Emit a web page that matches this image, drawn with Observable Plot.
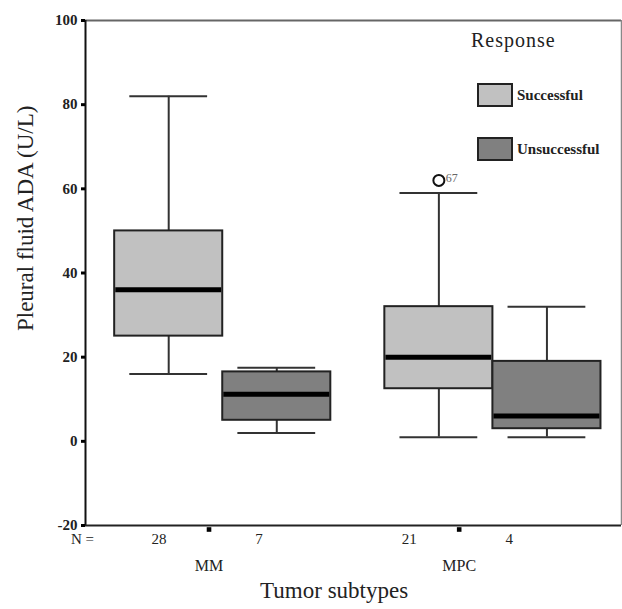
<!DOCTYPE html>
<html><head><meta charset="utf-8">
<script src="https://cdn.jsdelivr.net/npm/d3@7"></script>
<script src="https://cdn.jsdelivr.net/npm/@observablehq/plot@0.6"></script>
<style>
body{margin:0;background:#fff;}
#wrap{position:relative;width:622px;height:609px;overflow:hidden;}
</style></head><body>
<div id="wrap"><div id="chart"></div></div>
<script>
// ---- data ----
const groupNames = ["MM", "MPC"];
const responseNames = ["Successful", "Unsuccessful"];
const responseColors = ["#c1c1c1", "#808080"];
const boxGroup = ["MM", "MM", "MPC", "MPC"];
const boxResponse = ["Successful", "Unsuccessful", "Successful", "Unsuccessful"];
const nCount = [28, 7, 21, 4];
const whiskerLow = [16, 2, 1, 1];
const q1 = [25, 5, 12.5, 3];
const median = [36, 11.2, 20, 6];
const q3 = [50, 16.5, 32, 19];
const whiskerHigh = [82, 17.5, 59, 32];
const outlierGroup = ["MPC"];
const outlierResponse = ["Successful"];
const outlierValue = [62];
const outlierCase = ["67"];
const yTicks = [-20, 0, 20, 40, 60, 80, 100];
const yLabel = "Pleural fluid ADA (U/L)";
const xLabel = "Tumor subtypes";
const legendTitle = "Response";
const nPrefix = "N =";

// ---- layout ----
const groupStep = 2.5, boxW = 1, capW = 0.72;
const xDomain = [-0.77, 4.19];
const labelShrink = 0.926, labelShift = -0.09; // SPSS category labels sit on a slightly compressed axis
const pos = (g, r) => groupNames.indexOf(g) * groupStep + responseNames.indexOf(r);
const labelPos = p => p * labelShrink + labelShift;
const FONT = "Liberation Serif, serif";

const boxes = boxGroup.map((g, i) => ({
  group: g, response: boxResponse[i], pos: pos(g, boxResponse[i]), n: String(nCount[i]),
  lo: whiskerLow[i], q1: q1[i], med: median[i], q3: q3[i], hi: whiskerHigh[i]
}));
const outliers = outlierGroup.map((g, i) => ({pos: pos(g, outlierResponse[i]), value: outlierValue[i], label: outlierCase[i]}));
const groups = groupNames.map((g, i) => ({name: g, pos: labelPos(i * groupStep + 0.5)}));
const titleX = d3.mean(groups, d => d.pos);

const chart = Plot.plot({
  width: 622, height: 609,
  marginLeft: 85, marginRight: 1, marginTop: 20, marginBottom: 84,
  style: {fontFamily: FONT, background: "white", color: "#222", overflow: "visible"},
  x: {type: "linear", domain: xDomain, axis: null},
  y: {domain: [-20, 100], axis: null},
  color: {domain: responseNames, range: responseColors},
  marks: [
    // frame
    Plot.ruleY([100], {stroke: "#666", strokeWidth: 2}),
    Plot.ruleX([xDomain[1]], {stroke: "#888", strokeWidth: 1.5}),
    // whiskers
    Plot.ruleX(boxes, {x: "pos", y1: "q3", y2: "hi", stroke: "#333", strokeWidth: 2}),
    Plot.ruleX(boxes, {x: "pos", y1: "lo", y2: "q1", stroke: "#333", strokeWidth: 2}),
    Plot.ruleY(boxes, {y: "hi", x1: d => d.pos - capW / 2, x2: d => d.pos + capW / 2, stroke: "#333", strokeWidth: 2}),
    Plot.ruleY(boxes, {y: "lo", x1: d => d.pos - capW / 2, x2: d => d.pos + capW / 2, stroke: "#333", strokeWidth: 2}),
    // boxes
    Plot.rect(boxes, {x1: d => d.pos - boxW / 2, x2: d => d.pos + boxW / 2, y1: "q1", y2: "q3", fill: "response", stroke: "#222", strokeWidth: 2}),
    Plot.ruleY(boxes, {y: "med", x1: d => d.pos - boxW / 2 + 0.01, x2: d => d.pos + boxW / 2 - 0.01, stroke: "#000", strokeWidth: 5}),
    // outlier
    Plot.dot(outliers, {x: "pos", y: "value", r: 5.5, stroke: "#111", strokeWidth: 2, fill: "white"}),
    Plot.text(outliers, {x: "pos", y: "value", text: "label", dx: 13, dy: -2, fontSize: 12, fill: "#666"}),
    // axes lines
    Plot.ruleY([-20], {stroke: "#222", strokeWidth: 2}),
    Plot.ruleX([xDomain[0]], {stroke: "#111", strokeWidth: 2}),
    Plot.axisY(yTicks, {tickSize: 4, strokeWidth: 3, stroke: "#000", fontSize: 15, fontWeight: "bold", tickPadding: 4, label: null, tickFormat: d => String(d)}),
    // x categories
    Plot.dot(groups, {x: "pos", frameAnchor: "bottom", symbol: "square", r: 2.6, fill: "#000", dy: 4}),
    Plot.text(boxes, {x: d => labelPos(d.pos), frameAnchor: "bottom", text: "n", dy: 18, fontSize: 15}),
    Plot.text([nPrefix], {frameAnchor: "bottom-left", textAnchor: "middle", text: d => d, dy: 18, dx: -3, fontSize: 15}),
    Plot.text(groups, {x: "pos", frameAnchor: "bottom", text: "name", dy: 45, fontSize: 16}),
    Plot.text([xLabel], {x: () => titleX, frameAnchor: "bottom", text: d => d, dy: 72, fontSize: 23}),
    Plot.text([yLabel], {frameAnchor: "left", textAnchor: "middle", y: () => 53, text: d => d, rotate: -90, dx: -60, fontSize: 23})
  ]
});
document.getElementById("chart").appendChild(chart);

// legend, drawn into the same SVG (inside the plot area, top right)
const svg = d3.select(chart);
const lg = svg.append("g").attr("font-family", FONT).attr("fill", "#222").attr("text-anchor", "start");
lg.append("text").attr("x", 471).attr("y", 47).attr("font-size", 20).attr("letter-spacing", 1).text(legendTitle);
const swTops = [83, 137];
responseNames.forEach((r, i) => {
  lg.append("rect").attr("x", 478).attr("y", swTops[i] + 1).attr("width", 34).attr("height", 22)
    .attr("fill", responseColors[i]).attr("stroke", "#222").attr("stroke-width", 2);
  lg.append("text").attr("x", 517).attr("y", swTops[i] + 17).attr("font-size", 15).attr("font-weight", "bold").text(r);
});
</script>
</body></html>
